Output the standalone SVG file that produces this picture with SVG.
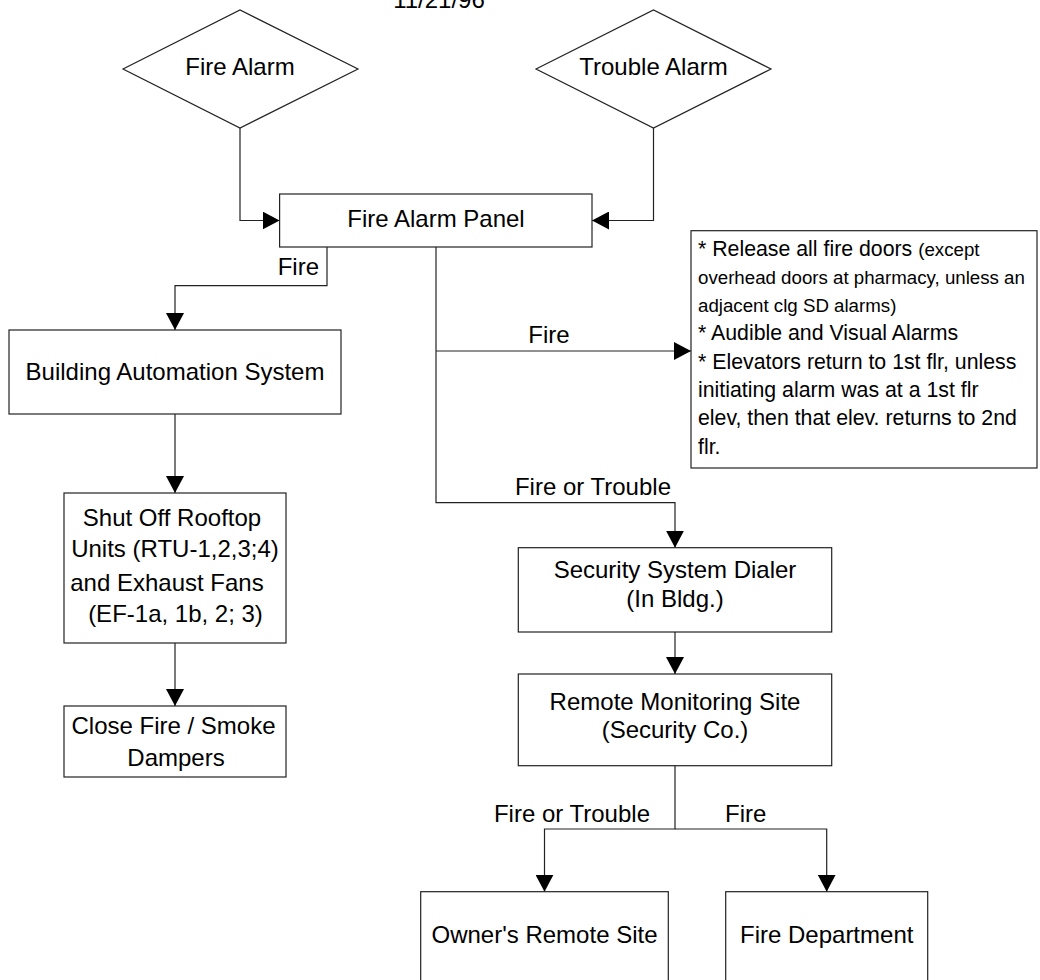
<svg xmlns="http://www.w3.org/2000/svg" width="1040" height="980" viewBox="0 0 1040 980">
<style>
text{font-family:"Liberation Sans",Arial,sans-serif;fill:#000}
.n{font-size:24px;text-anchor:middle}
.l{font-size:24px}
.i{font-size:21.3px}
.s{font-size:18.7px}
.box{fill:#fff;stroke:#222;stroke-width:1.2}
.c{fill:none;stroke:#222;stroke-width:1.2}
</style>
<defs>
<marker id="ah" markerUnits="userSpaceOnUse" markerWidth="18" markerHeight="18" refX="17" refY="9" orient="auto">
<path d="M0,0 L17,9 L0,18 z" fill="#000"/>
</marker>
</defs>
<rect width="1040" height="980" fill="#fff"/>
<text class="n" x="439" y="8">11/21/96</text>
<g id="connectors">
<path class="c" d="M240,128 V220.5 H279.6" marker-end="url(#ah)"/>
<path class="c" d="M653.5,128 V220.5 H592" marker-end="url(#ah)"/>
<path class="c" d="M327,247 V285.7 H175 V330" marker-end="url(#ah)"/>
<path class="c" d="M175,414 V493" marker-end="url(#ah)"/>
<path class="c" d="M175,643 V706" marker-end="url(#ah)"/>
<path class="c" d="M436,247 V502.7 H675 V547.7" marker-end="url(#ah)"/>
<path class="c" d="M436,351 H691" marker-end="url(#ah)"/>
<path class="c" d="M675,632 V674" marker-end="url(#ah)"/>
<path class="c" d="M675,765.7 V829 H544.5 V891.7" marker-end="url(#ah)"/>
<path class="c" d="M675,829 H826.7 V891.7" marker-end="url(#ah)"/>
<text class="l" x="319" y="275" text-anchor="end">Fire</text>
<text class="l" x="549" y="343" text-anchor="middle">Fire</text>
<text class="l" x="671" y="495" text-anchor="end">Fire or Trouble</text>
<text class="l" x="650" y="821.7" text-anchor="end">Fire or Trouble</text>
<text class="l" x="725" y="821.7">Fire</text>
</g>
<g id="fire-alarm">
<polygon class="box" points="123,69 240,10 358,69 240,128"/>
<text class="n" x="240" y="75">Fire Alarm</text>
</g>
<g id="trouble-alarm">
<polygon class="box" points="536,69 653.5,10 771,69 653.5,128"/>
<text class="n" x="653.5" y="75">Trouble Alarm</text>
</g>
<g id="fire-alarm-panel">
<rect class="box" x="279.6" y="194" width="312.4" height="53"/>
<text class="n" x="436" y="227">Fire Alarm Panel</text>
</g>
<g id="bas">
<rect class="box" x="9" y="330" width="332" height="84"/>
<text class="n" x="175" y="380">Building Automation System</text>
</g>
<g id="shut-off">
<rect class="box" x="64" y="493" width="222" height="150"/>
<text class="n" x="172" y="525.7">Shut Off Rooftop</text>
<text class="n" x="175" y="557">Units (RTU-1,2,3;4)</text>
<text class="n" x="167" y="590.7">and Exhaust Fans</text>
<text class="n" x="175.5" y="622">(EF-1a, 1b, 2; 3)</text>
</g>
<g id="close-dampers">
<rect class="box" x="64" y="706" width="222" height="71"/>
<text class="n" x="173.5" y="734">Close Fire / Smoke</text>
<text class="n" x="176" y="766">Dampers</text>
</g>
<g id="actions">
<rect class="box" x="691" y="230.7" width="346" height="237.3"/>
<text x="698" y="255.5"><tspan class="i">* Release all fire doors </tspan><tspan class="s">(except</tspan></text>
<text class="s" x="698" y="283.8">overhead doors at pharmacy, unless an</text>
<text class="s" x="698" y="312.1">adjacent clg SD alarms)</text>
<text class="i" x="698" y="340.4">* Audible and Visual Alarms</text>
<text class="i" x="698" y="368.7">* Elevators return to 1st flr, unless</text>
<text class="i" x="698" y="397">initiating alarm was at a 1st flr</text>
<text class="i" x="698" y="425.3">elev, then that elev. returns to 2nd</text>
<text class="i" x="698" y="453.6">flr.</text>
</g>
<g id="security-dialer">
<rect class="box" x="518.3" y="547.7" width="313.4" height="84.3"/>
<text class="n" x="675" y="578">Security System Dialer</text>
<text class="n" x="675" y="607">(In Bldg.)</text>
</g>
<g id="remote-monitoring">
<rect class="box" x="518.3" y="674" width="313.4" height="91.7"/>
<text class="n" x="675" y="710">Remote Monitoring Site</text>
<text class="n" x="675" y="738">(Security Co.)</text>
</g>
<g id="owner-remote">
<rect class="box" x="420.7" y="891.7" width="247.6" height="100"/>
<text class="n" x="544.5" y="942.7">Owner's Remote Site</text>
</g>
<g id="fire-department">
<rect class="box" x="725.7" y="891.7" width="202" height="100"/>
<text class="n" x="826.7" y="942.7">Fire Department</text>
</g>
</svg>
